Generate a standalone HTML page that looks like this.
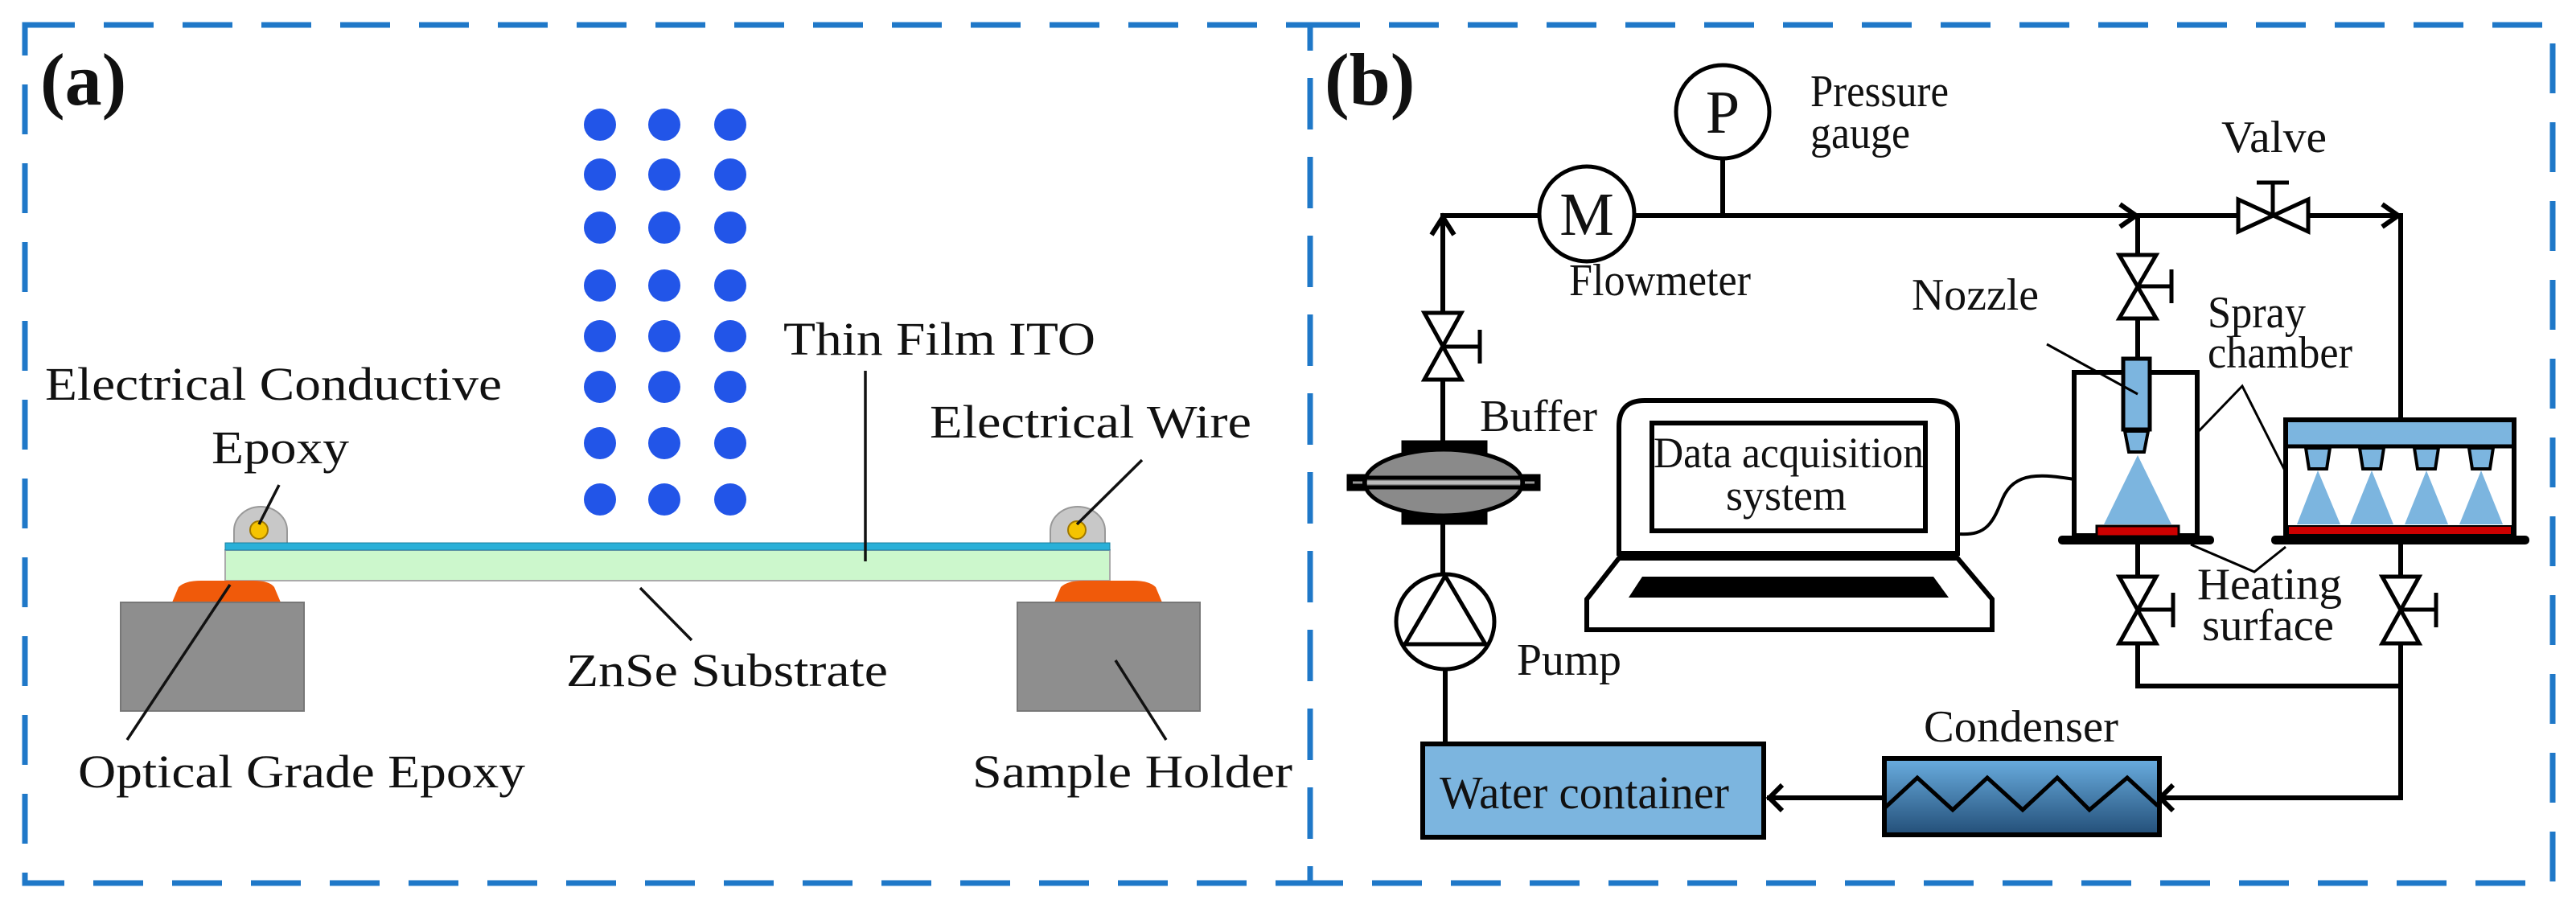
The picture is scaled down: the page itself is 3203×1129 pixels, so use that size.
<!DOCTYPE html>
<html><head><meta charset="utf-8"><style>
html,body{margin:0;padding:0;background:#fff;}
svg{display:block;}
text{font-family:"Liberation Serif","Times New Roman",serif;fill:#111;}
</style></head><body>
<svg width="3203" height="1129" viewBox="0 0 3203 1129" xmlns="http://www.w3.org/2000/svg" font-family="Liberation Serif, Times New Roman, serif">
<defs>
<linearGradient id="cg" x1="0" y1="0" x2="0" y2="1">
<stop offset="0" stop-color="#6aaee0"/><stop offset="1" stop-color="#234f78"/>
</linearGradient>
</defs>
<g fill="none" stroke="#1f78c8" stroke-width="7" stroke-dasharray="62 36">
<rect x="31" y="31" width="1598" height="1067"/>
<rect x="1629" y="31" width="1545" height="1067"/>
</g>

<!-- ================= PANEL A ================= -->
<text x="50" y="130" font-size="92" font-weight="bold" font-family="Liberation Serif, serif">(a)</text>
<g fill="#2255e8">
<circle cx="746" cy="155" r="20"/><circle cx="826" cy="155" r="20"/><circle cx="908" cy="155" r="20"/>
<circle cx="746" cy="217" r="20"/><circle cx="826" cy="217" r="20"/><circle cx="908" cy="217" r="20"/>
<circle cx="746" cy="283" r="20"/><circle cx="826" cy="283" r="20"/><circle cx="908" cy="283" r="20"/>
<circle cx="746" cy="355" r="20"/><circle cx="826" cy="355" r="20"/><circle cx="908" cy="355" r="20"/>
<circle cx="746" cy="418" r="20"/><circle cx="826" cy="418" r="20"/><circle cx="908" cy="418" r="20"/>
<circle cx="746" cy="481" r="20"/><circle cx="826" cy="481" r="20"/><circle cx="908" cy="481" r="20"/>
<circle cx="746" cy="551" r="20"/><circle cx="826" cy="551" r="20"/><circle cx="908" cy="551" r="20"/>
<circle cx="746" cy="621" r="20"/><circle cx="826" cy="621" r="20"/><circle cx="908" cy="621" r="20"/>
</g>
<path d="M291,676 L291,660 A33,30 0 0 1 357,660 L357,676 Z" fill="#c8c8c8" stroke="#999" stroke-width="2"/>
<path d="M1306,676 L1306,660 A34,30 0 0 1 1374,660 L1374,676 Z" fill="#c8c8c8" stroke="#999" stroke-width="2"/>
<circle cx="322" cy="659" r="11" fill="#f5c400" stroke="#a07800" stroke-width="2"/>
<circle cx="1339" cy="659" r="11" fill="#f5c400" stroke="#a07800" stroke-width="2"/>
<rect x="280" y="684" width="1100" height="38" fill="#ccf7cc" stroke="#aaa" stroke-width="2"/>
<rect x="280" y="675" width="1100" height="9" fill="#2ab0d8" stroke="#1a80a0" stroke-width="1"/>
<path d="M214,749 L222,730 Q230,722 250,722 L315,722 Q335,722 341,730 L349,749 Z" fill="#f05a0a"/>
<path d="M1311,749 L1319,730 Q1327,722 1347,722 L1409,722 Q1429,722 1437,730 L1445,749 Z" fill="#f05a0a"/>
<rect x="150" y="749" width="228" height="135" fill="#8e8e8e" stroke="#777" stroke-width="2"/>
<rect x="1265" y="749" width="227" height="135" fill="#8e8e8e" stroke="#777" stroke-width="2"/>
<g stroke="#111" stroke-width="3.5" fill="none">
<line x1="347" y1="603" x2="322" y2="652"/>
<line x1="1076" y1="461" x2="1076" y2="698"/>
<line x1="1420" y1="572" x2="1339" y2="652"/>
<line x1="796" y1="731" x2="860" y2="796"/>
<line x1="286" y1="727" x2="158" y2="920"/>
<line x1="1387" y1="821" x2="1450" y2="920"/>
</g>
<g font-size="58" font-family="Liberation Serif, serif">
<text x="56" y="497" textLength="568" lengthAdjust="spacingAndGlyphs">Electrical Conductive</text>
<text x="263" y="576" textLength="171" lengthAdjust="spacingAndGlyphs">Epoxy</text>
<text x="974" y="441" textLength="388" lengthAdjust="spacingAndGlyphs">Thin Film ITO</text>
<text x="1156" y="544" textLength="400" lengthAdjust="spacingAndGlyphs">Electrical Wire</text>
<text x="704" y="853" textLength="400" lengthAdjust="spacingAndGlyphs">ZnSe Substrate</text>
<text x="97" y="979" textLength="556" lengthAdjust="spacingAndGlyphs">Optical Grade Epoxy</text>
<text x="1209" y="979" textLength="398" lengthAdjust="spacingAndGlyphs">Sample Holder</text>
</g>

<!-- ================= PANEL B ================= -->
<text x="1647" y="130" font-size="92" font-weight="bold" font-family="Liberation Serif, serif">(b)</text>
<g stroke="#000" stroke-width="6" fill="none" stroke-linecap="square">
<line x1="1794" y1="268" x2="1912" y2="268"/>
<line x1="2034" y1="268" x2="2783" y2="268"/>
<line x1="2870" y1="268" x2="2985" y2="268"/>
<line x1="1794" y1="268" x2="1794" y2="389"/>
<line x1="1794" y1="472" x2="1794" y2="550"/>
<line x1="1794" y1="650" x2="1794" y2="713"/>
<line x1="1797" y1="833" x2="1797" y2="925"/>
<line x1="2142" y1="198" x2="2142" y2="268"/>
<line x1="2658" y1="268" x2="2658" y2="317"/>
<line x1="2658" y1="396" x2="2658" y2="446"/>
<line x1="2658" y1="677" x2="2658" y2="716"/>
<line x1="2658" y1="799" x2="2658" y2="853"/>
<line x1="2985" y1="268" x2="2985" y2="522"/>
<line x1="2985" y1="677" x2="2985" y2="716"/>
<line x1="2985" y1="799" x2="2985" y2="992"/>
<line x1="2658" y1="853" x2="2985" y2="853"/>
<line x1="2985" y1="992" x2="2688" y2="992"/>
<line x1="2341" y1="992" x2="2200" y2="992"/>
</g>
<g stroke="#000" stroke-width="6" fill="none">
<polyline points="1780,292 1794,270 1808,292"/>
<polyline points="2636,254 2656,268 2636,282"/>
<polyline points="2962,254 2982,268 2962,282"/>
<polyline points="2702,976 2686,992 2702,1008"/>
<polyline points="2216,976 2200,992 2216,1008"/>
</g>
<g stroke="#000" stroke-width="5" fill="#fff">
<polygon points="2783,248 2783,288 2870,248 2870,288"/>
<line x1="2826" y1="268" x2="2826" y2="227"/>
<line x1="2806" y1="227" x2="2846" y2="227"/>
</g>
<g stroke="#000" stroke-width="5" fill="#fff">
<polygon points="1771,389 1817,389 1771,472 1817,472"/>
<line x1="1794" y1="431" x2="1840" y2="431"/><line x1="1840" y1="410" x2="1840" y2="452"/>
<polygon points="2635,317 2681,317 2635,396 2681,396"/>
<line x1="2658" y1="356" x2="2700" y2="356"/><line x1="2700" y1="335" x2="2700" y2="377"/>
<polygon points="2635,717 2681,717 2635,800 2681,800"/>
<line x1="2658" y1="758" x2="2702" y2="758"/><line x1="2702" y1="737" x2="2702" y2="780"/>
<polygon points="2962,717 3008,717 2962,800 3008,800"/>
<line x1="2985" y1="758" x2="3029" y2="758"/><line x1="3029" y1="737" x2="3029" y2="780"/>
</g>
<circle cx="1973" cy="266" r="59" fill="#fff" stroke="#000" stroke-width="5"/>
<text x="1973" y="292" font-size="76" text-anchor="middle">M</text>
<circle cx="2142" cy="139" r="58" fill="#fff" stroke="#000" stroke-width="5"/>
<text x="2142" y="165" font-size="76" text-anchor="middle">P</text>
<!-- buffer -->
<g stroke="#000" stroke-width="5">
<rect x="1745" y="550" width="102" height="13" fill="#000"/>
<rect x="1745" y="637" width="102" height="13" fill="#000"/>
<rect x="1677" y="592" width="236" height="16" fill="#000"/>
<ellipse cx="1795" cy="600" rx="98" ry="41" fill="#8a8a8a"/>
<line x1="1700" y1="594" x2="1890" y2="594"/>
<line x1="1700" y1="606" x2="1890" y2="606"/>
</g>
<line x1="1700" y1="600" x2="1890" y2="600" stroke="#bbb" stroke-width="4"/>
<line x1="1682" y1="600" x2="1694" y2="600" stroke="#999" stroke-width="3"/>
<line x1="1896" y1="600" x2="1908" y2="600" stroke="#999" stroke-width="3"/>
<g stroke="#000" stroke-width="5" fill="none">
<ellipse cx="1797" cy="773" rx="61" ry="59" fill="#fff"/>
<polyline points="1747,801 1797,716 1847,801"/>
<line x1="1744" y1="801" x2="1850" y2="801"/>
</g>
<rect x="1769" y="925" width="424" height="116" fill="#7cb5df" stroke="#000" stroke-width="6"/>
<text x="1790" y="1005" font-size="58" textLength="360" lengthAdjust="spacingAndGlyphs">Water container</text>
<rect x="2343" y="943" width="342" height="95" fill="url(#cg)" stroke="#000" stroke-width="6"/>
<polyline points="2343,1005 2384,967 2428,1007 2471,967 2515,1007 2558,967 2598,1007 2645,967 2683,1002" fill="none" stroke="#000" stroke-width="5"/>
<g stroke="#000" stroke-width="6" fill="#fff">
<path d="M2013,688 L2013,530 Q2013,498 2045,498 L2402,498 Q2434,498 2434,530 L2434,688 Z"/>
<rect x="2054" y="526" width="340" height="134"/>
<path d="M2013,694 L2434,694 L2477,745 L2477,783 L1973,783 L1973,745 Z"/>
</g>
<polygon points="2042,717 2404,717 2423,743 2025,743" fill="#000"/>
<text x="2224" y="581" font-size="54" text-anchor="middle" textLength="336" lengthAdjust="spacingAndGlyphs">Data acquisition</text>
<text x="2221" y="634" font-size="54" text-anchor="middle">system</text>
<path d="M2437,664 C2470,666 2478,650 2490,620 C2505,585 2540,590 2579,596" fill="none" stroke="#000" stroke-width="4"/>
<rect x="2579" y="463" width="153" height="203" fill="#fff" stroke="#000" stroke-width="6"/>
<polygon points="2658,566 2616,652 2700,652" fill="#7cb5df"/>
<rect x="2640" y="446" width="33" height="88" fill="#7cb5df" stroke="#000" stroke-width="5"/>
<polygon points="2642,536 2671,536 2666,562 2647,562" fill="#7cb5df" stroke="#000" stroke-width="4"/>
<rect x="2607" y="654" width="102" height="13" fill="#cc0000" stroke="#000" stroke-width="3"/>
<rect x="2559" y="666" width="194" height="11" rx="5" fill="#000"/>
<rect x="2842" y="522" width="284" height="144" fill="#fff" stroke="#000" stroke-width="6"/>
<rect x="2845" y="525" width="278" height="29" fill="#7cb5df"/>
<line x1="2842" y1="555" x2="3126" y2="555" stroke="#000" stroke-width="5"/>
<g fill="#7cb5df">
<polygon points="2882,585 2856,652 2910,652"/>
<polygon points="2949,585 2922,652 2976,652"/>
<polygon points="3017,585 2990,652 3044,652"/>
<polygon points="3085,585 3058,652 3112,652"/>
</g>
<g fill="#7cb5df" stroke="#000" stroke-width="4">
<polygon points="2867,557 2897,557 2893,583 2871,583"/>
<polygon points="2934,557 2964,557 2960,583 2938,583"/>
<polygon points="3002,557 3032,557 3028,583 3006,583"/>
<polygon points="3070,557 3100,557 3096,583 3074,583"/>
</g>
<rect x="2845" y="654" width="278" height="11" fill="#cc0000" stroke="#000" stroke-width="2"/>
<rect x="2824" y="666" width="321" height="11" rx="5" fill="#000"/>
<g stroke="#000" stroke-width="3" fill="none">
<line x1="2545" y1="428" x2="2658" y2="490"/>
<polyline points="2734,536 2788,480 2842,587"/>
<polyline points="2724,677 2803,711 2842,680"/>
</g>
<g font-size="56">
<text x="2251" y="132" textLength="172" lengthAdjust="spacingAndGlyphs">Pressure</text>
<text x="2251" y="184" textLength="124" lengthAdjust="spacingAndGlyphs">gauge</text>
<text x="1951" y="367" textLength="226" lengthAdjust="spacingAndGlyphs">Flowmeter</text>
<text x="2762" y="189" textLength="131" lengthAdjust="spacingAndGlyphs">Valve</text>
<text x="2377" y="385" textLength="158" lengthAdjust="spacingAndGlyphs">Nozzle</text>
<text x="2745" y="407" textLength="122" lengthAdjust="spacingAndGlyphs">Spray</text>
<text x="2745" y="457" textLength="180" lengthAdjust="spacingAndGlyphs">chamber</text>
<text x="1840" y="536" textLength="146" lengthAdjust="spacingAndGlyphs">Buffer</text>
<text x="1886" y="839" textLength="130" lengthAdjust="spacingAndGlyphs">Pump</text>
<text x="2732" y="745" textLength="180" lengthAdjust="spacingAndGlyphs">Heating</text>
<text x="2738" y="796" textLength="164" lengthAdjust="spacingAndGlyphs">surface</text>
<text x="2392" y="922" textLength="242" lengthAdjust="spacingAndGlyphs">Condenser</text>
</g>
</svg>
</body></html>
